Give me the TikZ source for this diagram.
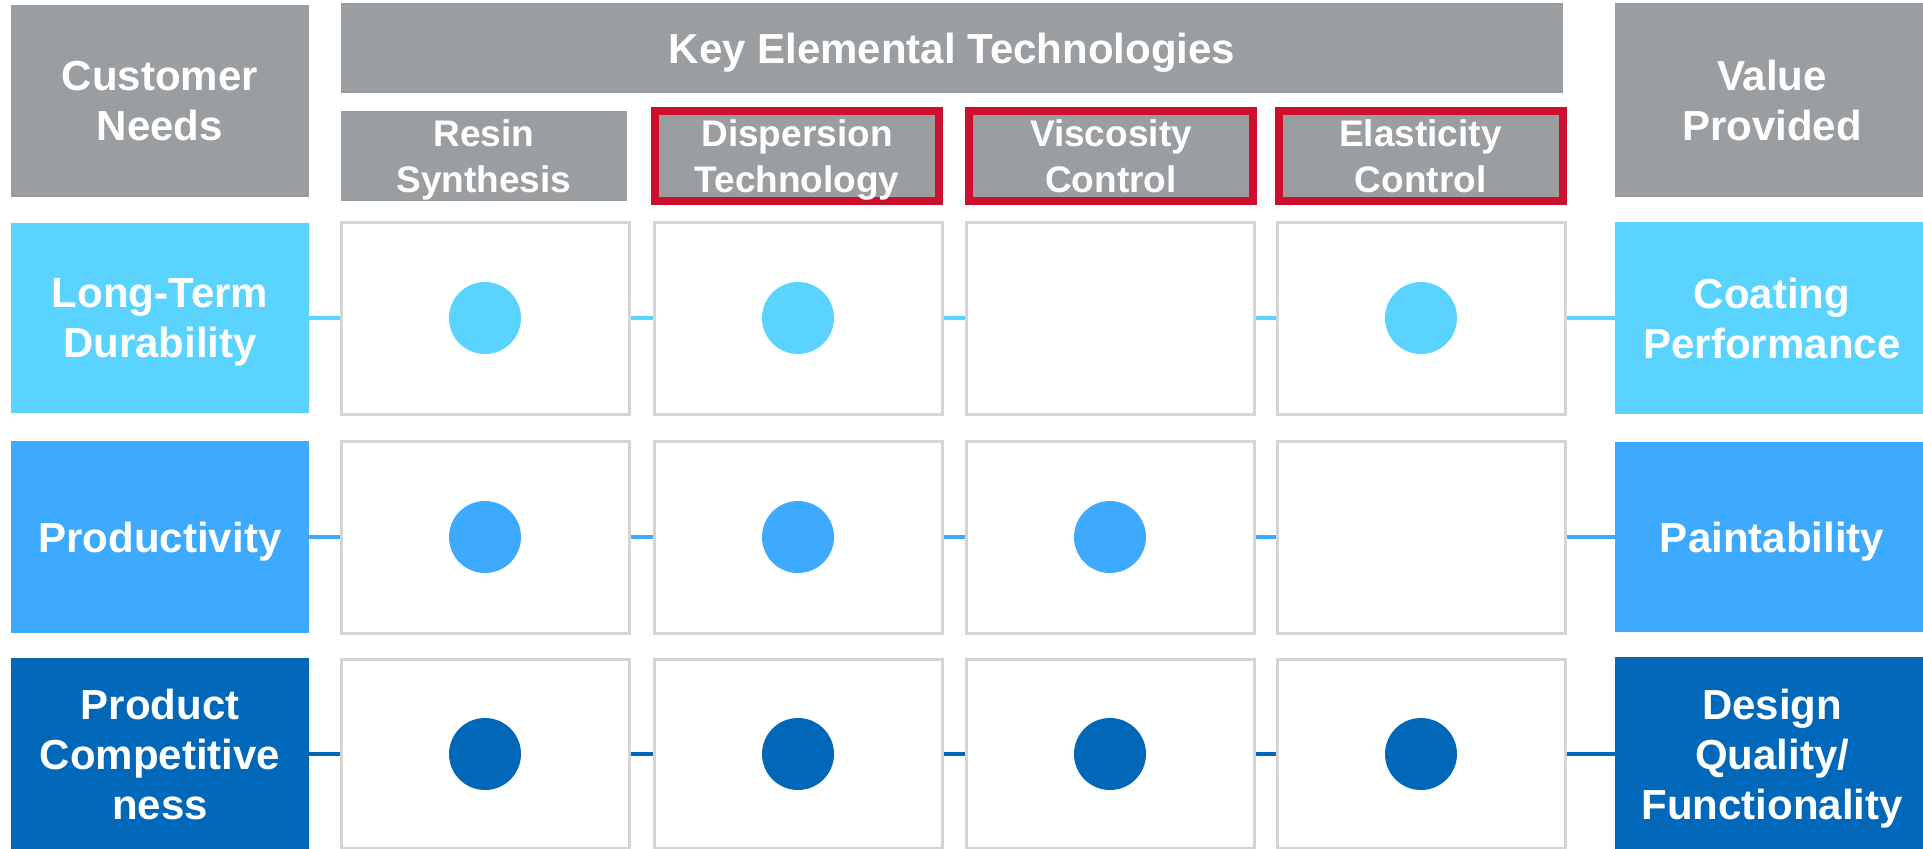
\documentclass[tikz,border=0pt]{standalone}
\usepackage{fontspec}
\setmainfont{Liberation Sans}
\usetikzlibrary{positioning}

\definecolor{hdrgray}{HTML}{9B9EA1}
\definecolor{selred}{HTML}{CE102E}
\definecolor{rowone}{HTML}{5AD3FF}
\definecolor{rowtwo}{HTML}{3DAAFF}
\definecolor{rowthree}{HTML}{0067B9}
\definecolor{cellgray}{HTML}{D4D4D4}

\tikzset{
  hdr/.style={fill=hdrgray, text=white, align=center, inner sep=0pt,
    text depth=0pt, font=\bfseries\fontsize{42}{50}\selectfont},
  sub/.style={fill=hdrgray, text=white, align=center, inner sep=0pt,
    text depth=0pt, minimum height=90pt,
    font=\bfseries\fontsize{37}{46}\selectfont},
  sel/.style={draw=selred, line width=8pt, minimum width=284pt},
  need/.style={text=white, align=center, inner sep=0pt,
    text depth=0pt, font=\bfseries\fontsize{42}{50}\selectfont},
  cell/.style={draw=cellgray, fill=white, line width=3pt,
    minimum width=288pt, minimum height=192pt},
  dot/.style={circle, inner sep=0pt, minimum size=72pt},
  link/.style={line width=4pt}
}

\begin{document}
\begin{tikzpicture}[x=1pt,y=-1pt]
\useasboundingbox (0,0) rectangle (1923,849);

% Header row
\node[hdr, minimum width=298pt, minimum height=192pt] (CN) at (160,101)
  {Customer\\Needs};
\node[hdr, minimum width=1222pt, minimum height=90pt] (KET) at (952,48)
  {Key Elemental Technologies};
\node[hdr, minimum width=314pt, minimum height=194pt] (VP) at (1772,100)
  {Value\\Provided};

% Technology headers
\node[sub, minimum width=286pt] (RS) at (484,156) {Resin\\Synthesis};
\node[sub, sel] (DT) at (797,156) {Dispersion\\Technology};
\node[sub, sel] (VC) at (1111,156) {Viscosity\\Control};
\node[sub, sel] (EC) at (1420.5,156) {Elasticity\\Control};

% Row 1
\node[need, fill=rowone, minimum width=298pt, minimum height=190pt] (N1)
  at (160,318) {Long-Term\\Durability};
\node[cell] (C11) at (485,318) {};
\node[cell] (C12) at (798,318) {};
\node[cell] (C13) at (1110,318) {};
\node[cell] (C14) at (1421,318) {};
\node[need, fill=rowone, minimum width=314pt, minimum height=192pt] (V1)
  at (1772,318) {Coating\\Performance};

% Row 2
\node[need, fill=rowtwo, minimum width=298pt, minimum height=192pt] (N2)
  at (160,537) {Productivity};
\node[cell] (C21) at (485,537) {};
\node[cell] (C22) at (798,537) {};
\node[cell] (C23) at (1110,537) {};
\node[cell] (C24) at (1421,537) {};
\node[need, fill=rowtwo, minimum width=314pt, minimum height=190pt] (V2)
  at (1772,537) {Paintability};

% Row 3
\node[need, fill=rowthree, minimum width=298pt, minimum height=192pt] (N3)
  at (160,754) {Product\\Competitive\\ness};
\node[cell, minimum height=189pt] (C31) at (485,754) {};
\node[cell, minimum height=189pt] (C32) at (798,754) {};
\node[cell, minimum height=189pt] (C33) at (1110,754) {};
\node[cell, minimum height=189pt] (C34) at (1421,754) {};
\node[need, fill=rowthree, minimum width=314pt, minimum height=194pt] (V3)
  at (1772,754) {Design\\Quality/\\Functionality};

% Links
\draw[link, rowone] (N1) -- (C11);
\draw[link, rowone] (C11) -- (C12);
\draw[link, rowone] (C12) -- (C13);
\draw[link, rowone] (C13) -- (C14);
\draw[link, rowone] (C14) -- (V1);

\draw[link, rowtwo] (N2) -- (C21);
\draw[link, rowtwo] (C21) -- (C22);
\draw[link, rowtwo] (C22) -- (C23);
\draw[link, rowtwo] (C23) -- (C24);
\draw[link, rowtwo] (C24) -- (V2);

\draw[link, rowthree] (N3) -- (C31);
\draw[link, rowthree] (C31) -- (C32);
\draw[link, rowthree] (C32) -- (C33);
\draw[link, rowthree] (C33) -- (C34);
\draw[link, rowthree] (C34) -- (V3);

% Dots
\node[dot, fill=rowone] (P11) at (C11) {};
\node[dot, fill=rowone] (P12) at (C12) {};
\node[dot, fill=rowone] (P14) at (C14) {};

\node[dot, fill=rowtwo] (P21) at (C21) {};
\node[dot, fill=rowtwo] (P22) at (C22) {};
\node[dot, fill=rowtwo] (P23) at (C23) {};

\node[dot, fill=rowthree] (P31) at (C31) {};
\node[dot, fill=rowthree] (P32) at (C32) {};
\node[dot, fill=rowthree] (P33) at (C33) {};
\node[dot, fill=rowthree] (P34) at (C34) {};

\end{tikzpicture}
\end{document}
